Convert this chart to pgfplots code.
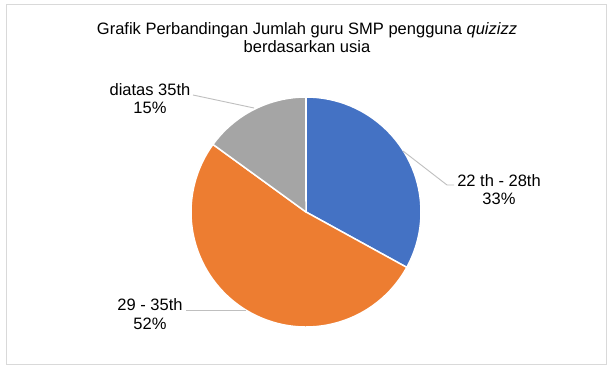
\documentclass[border=0pt]{standalone}
\usepackage{pgfplots}
\pgfplotsset{compat=1.18}
\usepackage{pgfplotstable}
\usepackage{fontspec}
\setmainfont{Liberation Sans}
\definecolor{cBlue}{HTML}{4472C4}
\definecolor{cOrange}{HTML}{ED7D31}
\definecolor{cGray}{HTML}{A5A5A5}
\definecolor{cLeader}{HTML}{BFBFBF}
\definecolor{cFrame}{HTML}{D9D9D9}
\pgfplotstableread{
label value
A 33
B 52
C 15
}\piedata
\pgfplotstablegetelem{0}{value}\of\piedata \let\va\pgfplotsretval
\pgfplotstablegetelem{1}{value}\of\piedata \let\vb\pgfplotsretval
\pgfplotstablegetelem{2}{value}\of\piedata \let\vc\pgfplotsretval
\pgfmathsetmacro\tot{\va+\vb+\vc}
\pgfmathsetmacro\aA{90}
\pgfmathsetmacro\aB{90-360*(\va/\tot)}
\pgfmathsetmacro\aC{\aB-360*(\vb/\tot)}
\pgfmathsetmacro\aD{\aC-360*(\vc/\tot)}
\def\cx{306}\def\cy{158}\def\R{115}
\begin{document}
\fontsize{16.5}{19}\selectfont
\begin{tikzpicture}
\begin{axis}[
  width=614pt, height=370pt, scale only axis,
  xmin=0, xmax=614, ymin=0, ymax=370,
  enlargelimits=false, axis lines=none, clip=false,
]
\fill[white] (axis cs:0,0) rectangle (axis cs:614,370);
\draw[cFrame, line width=1pt] (axis cs:6,5) rectangle (axis cs:606,365);
% slices
\fill[cBlue, draw=white, line width=1.5pt, line join=round] (axis cs:\cx,\cy) -- (axis cs:{\cx+\R*cos(\aA)},{\cy+\R*sin(\aA)}) arc[start angle=\aA, end angle=\aB, radius=\R pt] -- cycle;
\fill[cOrange, draw=white, line width=1.5pt, line join=round] (axis cs:\cx,\cy) -- (axis cs:{\cx+\R*cos(\aB)},{\cy+\R*sin(\aB)}) arc[start angle=\aB, end angle=\aC, radius=\R pt] -- cycle;
\fill[cGray, draw=white, line width=1.5pt, line join=round] (axis cs:\cx,\cy) -- (axis cs:{\cx+\R*cos(\aC)},{\cy+\R*sin(\aC)}) arc[start angle=\aC, end angle=\aD, radius=\R pt] -- cycle;
% leaders
\draw[cLeader, line width=0.9pt] (axis cs:193,275) -- (axis cs:254,262);
\draw[cLeader, line width=0.9pt] (axis cs:454,185) -- (axis cs:447,185) -- (axis cs:403,219);
\draw[cLeader, line width=0.9pt] (axis cs:186,60) -- (axis cs:246,60);
% title
\node[anchor=base] at (axis cs:307,335) {Grafik Perbandingan Jumlah guru SMP pengguna \textit{quizizz}};
\node[anchor=base] at (axis cs:307,317) {berdasarkan usia};
% labels
\node[anchor=base] at (axis cs:499,183) {22 th - 28th};
\node[anchor=base] at (axis cs:499,165) {33\%};
\node[anchor=base] at (axis cs:150,274) {diatas 35th};
\node[anchor=base] at (axis cs:150,256) {15\%};
\node[anchor=base] at (axis cs:150,59) {29 - 35th};
\node[anchor=base] at (axis cs:150,40) {52\%};
\end{axis}
\end{tikzpicture}
\end{document}
